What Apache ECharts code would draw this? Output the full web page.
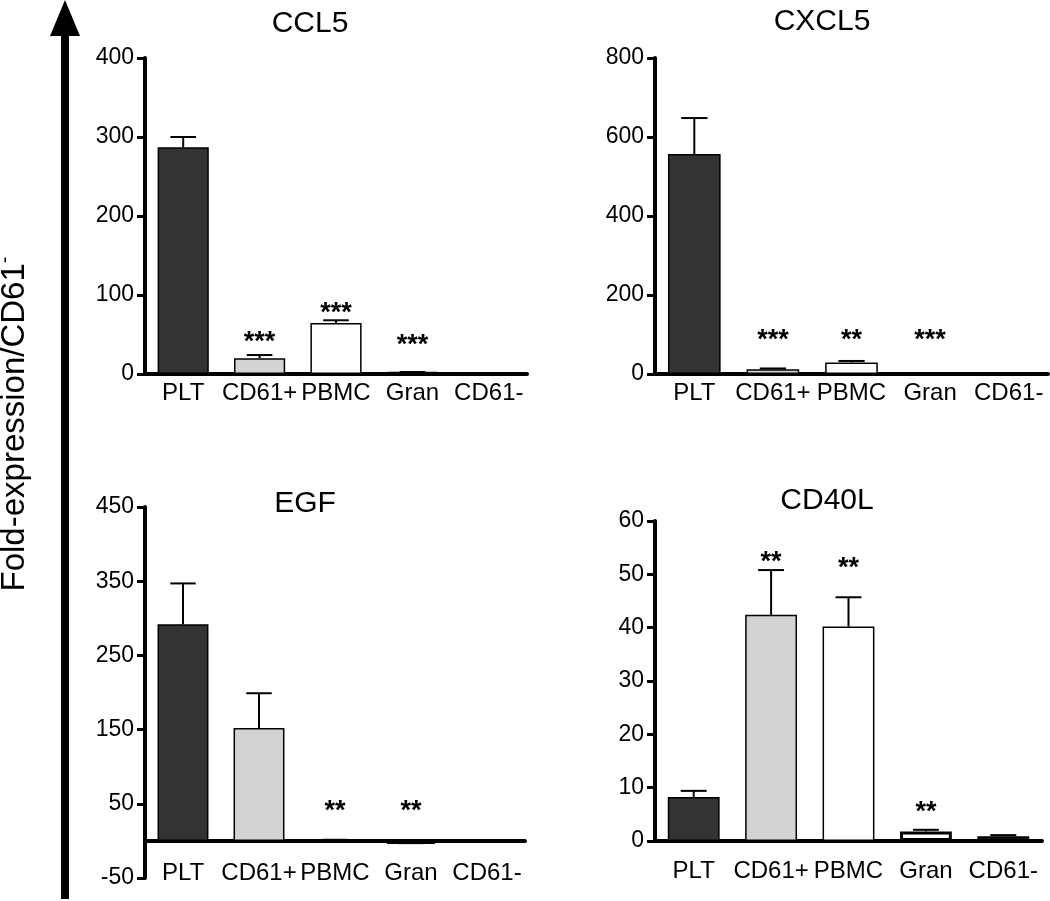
<!DOCTYPE html>
<html>
<head>
<meta charset="utf-8">
<script src="https://cdn.jsdelivr.net/npm/echarts@6/dist/echarts.min.js"></script>
<style>html,body{margin:0;padding:0;background:#fff}#c{width:1050px;height:901px}</style>
</head>
<body>
<div id="c"></div>
<script>
// ---- data ----
const categories = ['PLT', 'CD61+', 'PBMC', 'Gran', 'CD61-'];

const ccl5Mean = [287, 20, 64.5, 2, 1];
const ccl5Sem = [13, 4, 3.5, 0.5, 0.3];
const ccl5Stars = ['', '***', '***', '***', ''];
const ccl5StarLevel = [null, 47, 84, 44, null];

const cxcl5Mean = [557, 12, 29, 2, 1.5];
const cxcl5Sem = [91, 2, 4, 0.5, 0.3];
const cxcl5Stars = ['', '***', '**', '***', ''];
const cxcl5StarLevel = [null, 99, 99, 99, null];

const egfMean = [292, 152, 1, -4, 0.5];
const egfSem = [55, 47, 0.5, 1, 0.3];
const egfStars = ['', '', '**', '**', ''];
const egfStarLevel = [null, null, 47, 47, null];

const cd40lMean = [8.25, 42.4, 40.2, 1.8, 0.9];
const cd40lSem = [1.15, 8.4, 5.5, 0.3, 0.2];
const cd40lStars = ['', '**', '**', '**', ''];
const cd40lStarLevel = [null, 53.3, 52.2, 6.4, null];

const panelTitles = ['CCL5', 'CXCL5', 'EGF', 'CD40L'];
const yMin = [0, 0, -50, 0];
const yMax = [400, 800, 450, 60];
const yInterval = [100, 200, 100, 10];

// ---- styles ----
const FONT = 'Liberation Sans, Arial, Helvetica, sans-serif';
const barColors = ['#333333', '#d3d3d3', '#ffffff', '#ffffff', '#1e1e1e'];
const barBorderW = [1.5, 1.5, 1.5, 3, 2];

const panels = [
  {mean: ccl5Mean, sem: ccl5Sem, stars: ccl5Stars, lvl: ccl5StarLevel},
  {mean: cxcl5Mean, sem: cxcl5Sem, stars: cxcl5Stars, lvl: cxcl5StarLevel},
  {mean: egfMean, sem: egfSem, stars: egfStars, lvl: egfStarLevel},
  {mean: cd40lMean, sem: cd40lSem, stars: cd40lStars, lvl: cd40lStarLevel}
];

const grids = [
  {left: 145, top: 58, width: 382, height: 316},
  {left: 655, top: 58, width: 393, height: 316},
  {left: 145, top: 507, width: 380, height: 371},
  {left: 655, top: 521, width: 387, height: 320}
];
const xLabelMargin = [7, 7, -17, 18];

const titlePos = [[310, 24], [822, 22], [305, 504], [827, 501]];

const chart = echarts.init(document.getElementById('c'));

const xAxes = [], yAxes = [], series = [];
panels.forEach((p, k) => {
  xAxes.push({
    type: 'category', gridIndex: k, data: categories,
    axisLine: {onZero: true, lineStyle: {color: '#000', width: 4}},
    axisTick: {show: false},
    axisLabel: {color: '#000', fontSize: 24, fontFamily: FONT, margin: xLabelMargin[k], interval: 0}
  });
  yAxes.push({
    type: 'value', gridIndex: k, min: yMin[k], max: yMax[k], interval: yInterval[k],
    axisLine: {show: true, lineStyle: {color: '#000', width: 4}},
    axisTick: {show: true, length: 8, lineStyle: {color: '#000', width: 3}},
    axisLabel: {color: '#000', fontSize: 23, fontFamily: FONT, margin: 11},
    splitLine: {show: false}
  });
  series.push({
    type: 'bar', xAxisIndex: k, yAxisIndex: k, barCategoryGap: '33%',
    data: p.mean.map((v, i) => ({
      value: v,
      itemStyle: {color: barColors[i], borderColor: '#000', borderWidth: barBorderW[i]}
    })),
    z: 2
  });
  series.push({
    type: 'custom', xAxisIndex: k, yAxisIndex: k, z: 3,
    data: p.mean.map((v, i) => [i, v, v + p.sem[i]]),
    renderItem: function (params, api) {
      const x = api.value(0);
      const base = api.coord([x, api.value(1)]);
      const top = api.coord([x, api.value(2)]);
      const bw = api.size([1, 0])[0] * 0.67;
      const cap = bw * 0.5;
      return {
        type: 'group',
        children: [
          {type: 'line', shape: {x1: base[0], y1: base[1], x2: top[0], y2: top[1]}, style: {stroke: '#000', lineWidth: 2}},
          {type: 'line', shape: {x1: top[0] - cap / 2, y1: top[1], x2: top[0] + cap / 2, y2: top[1]}, style: {stroke: '#000', lineWidth: 2}}
        ]
      };
    }
  });
  series.push({
    type: 'custom', xAxisIndex: k, yAxisIndex: k, z: 4,
    data: p.stars.map((s, i) => [i, p.lvl[i] == null ? 0 : p.lvl[i], s]),
    renderItem: function (params, api) {
      const s = p.stars[params.dataIndex];
      if (!s) return null;
      const pt = api.coord([api.value(0), api.value(1)]);
      return {
        type: 'text',
        style: {text: s, x: pt[0], y: pt[1] + 6, align: 'center', verticalAlign: 'middle',
                fontSize: 27, fontWeight: 'bold', fontFamily: FONT, fill: '#000'}
      };
    }
  });
});

const graphics = [
  {type: 'rect', shape: {x: 61, y: 33, width: 8, height: 866}, style: {fill: '#000'}},
  {type: 'polygon', shape: {points: [[65, 0], [50, 36], [80, 36]]}, style: {fill: '#000'}},
  {type: 'text', x: 15, y: 424, rotation: Math.PI / 2,
   style: {text: 'Fold-expression/CD61{sup|-}', align: 'center', verticalAlign: 'middle',
           fontSize: 33, fontFamily: FONT, fill: '#000',
           rich: {sup: {fontSize: 20, fontFamily: FONT, fill: '#000', verticalAlign: 'top', padding: [0, 0, 20, 0]}}}}
];
titlePos.forEach((tp, k) => {
  graphics.push({type: 'text', x: tp[0], y: tp[1],
    style: {text: panelTitles[k], align: 'center', verticalAlign: 'middle', fontSize: 30, fontFamily: FONT, fill: '#000'}});
});

chart.setOption({
  animation: false,
  backgroundColor: '#fff',
  grid: grids.map(g => Object.assign({containLabel: false, outerBoundsMode: 'none'}, g)),
  xAxis: xAxes,
  yAxis: yAxes,
  series: series,
  graphic: graphics
});
</script>
</body>
</html>
